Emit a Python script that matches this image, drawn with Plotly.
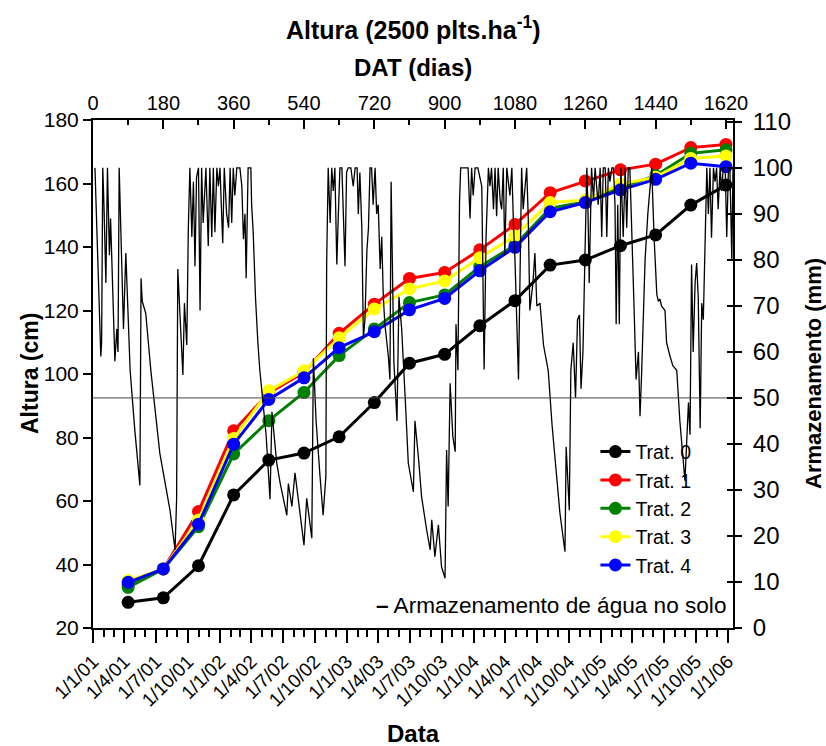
import plotly.graph_objects as go

# Days after transplanting at each height measurement
dat = [90, 180, 270, 360, 450, 540, 630, 720, 810, 900,
       990, 1080, 1170, 1260, 1350, 1440, 1530, 1620]

# Plant height (cm) per treatment
trat0 = [28.1, 29.5, 39.6, 61.9, 72.9, 75.1, 80.2, 91.0, 103.4, 106.2,
         115.2, 123.1, 134.3, 135.9, 140.4, 143.8, 153.2, 159.5]
trat1 = [33.7, 38.6, 56.7, 82.1, 94.0, 100.5, 112.8, 122.0, 130.1, 132.0,
         139.1, 147.1, 157.1, 160.8, 164.3, 166.1, 171.3, 172.3]
trat2 = [32.8, 38.6, 51.9, 74.8, 85.3, 94.2, 105.8, 114.2, 122.5, 124.9,
         133.8, 140.6, 152.2, 154.3, 158.8, 162.5, 169.5, 170.6]
trat3 = [34.9, 38.6, 54.0, 79.7, 94.7, 101.0, 111.4, 120.5, 126.8, 129.3,
         136.6, 143.5, 154.0, 154.8, 159.8, 162.0, 167.9, 168.7]
trat4 = [34.4, 38.6, 52.7, 77.9, 92.0, 98.8, 108.3, 113.3, 120.2, 123.8,
         132.5, 139.9, 151.1, 154.0, 158.0, 161.3, 166.4, 165.3]

series_names = ["Trat. 0", "Trat. 1", "Trat. 2", "Trat. 3", "Trat. 4"]
series_colors = ["#000000", "#ff0000", "#008000", "#ffff00", "#0000ff"]

# Soil water storage (mm) against days after transplanting
agua_dat = [5, 9, 12, 20, 22, 25, 28, 33, 37, 42, 45, 50, 56, 61, 64, 67, 73, 78, 84, 88,
            95, 107, 120, 123, 126, 135, 148, 171, 197, 210, 214, 217, 230, 234, 240, 244,
            248, 253, 257, 261, 265, 270, 274, 278, 282, 289, 295, 299, 304, 308, 312, 317,
            321, 325, 332, 336, 342, 347, 351, 355, 359, 363, 368, 376, 381, 385, 389, 392,
            397, 404, 406, 410, 416, 422, 427, 443, 453, 458, 470, 479, 496, 500, 509, 517,
            525, 534, 540, 547, 555, 560, 564, 571, 581, 589, 596, 598, 602, 607, 611, 615,
            619, 624, 628, 632, 637, 645, 649, 653, 660, 666, 671, 676, 679, 683, 688, 692,
            696, 701, 705, 709, 713, 717, 722, 726, 730, 735, 739, 743, 747, 752, 756, 760,
            763, 770, 778, 783, 790, 799, 807, 820, 824, 833, 841, 854, 863, 867, 875, 884,
            892, 901, 903, 905, 909, 914, 921, 927, 929, 934, 938, 941, 952, 960, 965, 969,
            973, 978, 985, 995, 1001, 1006, 1012, 1016, 1020, 1025, 1029, 1033, 1037, 1042,
            1046, 1050, 1054, 1059, 1067, 1072, 1076, 1080, 1089, 1097, 1101, 1110, 1114,
            1118, 1126, 1131, 1136, 1144, 1153, 1165, 1175, 1187, 1195, 1208, 1211, 1219,
            1223, 1229, 1235, 1240, 1245, 1249, 1254, 1259, 1264, 1267, 1270, 1276, 1281,
            1285, 1289, 1293, 1298, 1302, 1306, 1311, 1315, 1319, 1323, 1328, 1332, 1336,
            1339, 1343, 1347, 1351, 1357, 1362, 1366, 1370, 1374, 1379, 1385, 1390, 1396,
            1400, 1404, 1413, 1420, 1430, 1436, 1443, 1447, 1451, 1455, 1464, 1468, 1477,
            1484, 1494, 1502, 1515, 1519, 1524, 1528, 1532, 1536, 1541, 1545, 1549, 1554,
            1558, 1562, 1566, 1571, 1575, 1579, 1583, 1588, 1592, 1596, 1600, 1605, 1609,
            1613, 1618, 1622, 1626, 1630, 1635, 1638]
agua_mm = [100, 88, 83, 59, 62, 100, 92, 75, 100, 81, 89, 72, 58, 65, 60, 100, 81, 65, 81.5, 73,
           56, 43, 31, 76, 71, 68.4, 56, 38, 25.6, 17, 28, 78, 55, 70.6, 61.5, 87,
           100, 85, 97, 78.6, 98, 100, 69, 100, 88, 100, 83, 100, 85, 100, 86, 100,
           96, 100, 83.6, 100, 90, 87, 100, 88, 100, 94, 100, 100, 96, 84.5, 90, 76,
           100, 100, 92, 86, 71.6, 62, 56, 42, 28, 47, 36, 31.5, 24.5, 31.4, 26.4, 33.7,
           28.5, 22, 18, 28.2, 22, 19.5, 58.6, 45, 33, 24.5, 33, 79, 100, 88, 100, 95,
           100, 79, 90, 100, 100, 78.6, 99, 100, 100, 96, 100, 100, 90, 99, 87, 63,
           67, 82, 87, 100, 100, 92, 100, 90, 92, 78, 85, 72, 66, 62, 59, 54,
           97, 58, 45, 72, 65, 50, 35.8, 29.6, 45, 37, 28.5, 21.3, 17, 23.5, 15.5, 22.4,
           13.3, 10.8, 33, 38.7, 26.4, 53.2, 41.6, 38.3, 66, 56, 92.5, 100, 100, 100, 89, 100,
           94, 100, 100, 96, 56.2, 85, 100, 96, 100, 91, 100, 89.5, 100, 93,
           91, 100, 81, 100, 94, 100, 88, 80, 54, 100, 91, 100, 89,
           69, 75, 81.5, 70, 70.6, 61.5, 56, 44, 31.5, 25, 16.6, 39.4, 25.6,
           56, 62, 50, 67, 68, 52, 60, 80.6, 100, 90, 75, 100, 93,
           100, 96, 92, 100, 85, 100, 100, 85, 100, 97, 100, 100, 92,
           66, 92, 66, 100, 85, 100, 87, 100, 100, 83.6, 69, 54, 60,
           46, 55, 80, 90, 100, 85, 72.5, 71, 71.5, 70, 69, 62, 59,
           57, 56, 45, 32, 40, 49, 42, 79, 60, 75, 79.3, 72, 43.4,
           70.6, 67, 79.3, 100, 90, 100, 84.8, 100, 97, 100, 91, 100, 95,
           100, 100, 85, 99, 100, 80, 100]

# Calendar span of the bottom axis and the 50 mm reference level
data_inicio = "2001-01-01"
data_fim = "2006-01-16"
nivel_ref_mm = 50

FONT = "Liberation Sans, Arial, sans-serif"

fig = go.Figure()

for nome, cor, vals in zip(series_names, series_colors, [trat0, trat1, trat2, trat3, trat4]):
    fig.add_trace(go.Scatter(
        x=dat, y=vals, name=nome, mode="lines+markers",
        line=dict(color=cor, width=3),
        marker=dict(color=cor, size=13),
        xaxis="x", yaxis="y",
    ))

fig.add_trace(go.Scatter(
    x=agua_dat, y=agua_mm, name="Armazenamento de água no solo",
    mode="lines", line=dict(color="black", width=1.3),
    xaxis="x", yaxis="y2", showlegend=False,
))

# Horizontal reference at 50 mm across the whole date span
fig.add_trace(go.Scatter(
    x=[data_inicio, data_fim], y=[nivel_ref_mm, nivel_ref_mm],
    mode="lines", line=dict(color="#444444", width=1),
    xaxis="x2", yaxis="y3", showlegend=False, hoverinfo="skip",
))

axis_common = dict(showline=True, linecolor="black", linewidth=2,
                   showgrid=False, zeroline=False, tickcolor="black")

fig.update_layout(
    width=826, height=746,
    margin=dict(l=93, r=93, t=120, b=118),
    paper_bgcolor="white", plot_bgcolor="white",
    font=dict(family=FONT, color="black"),
    showlegend=True,
    legend=dict(x=0.785, y=0.385, xanchor="left", yanchor="top",
                bgcolor="rgba(0,0,0,0)", font=dict(size=19.5, family=FONT),
                tracegroupgap=0),
    # days after transplanting (top)
    xaxis=dict(
        side="top", range=[0, 1638],
        tick0=0, dtick=180, ticks="inside", ticklen=9, tickwidth=1.5,
        tickfont=dict(size=20),
        minor=dict(dtick=90, tick0=0, ticks="inside", ticklen=5, tickwidth=1.5, tickcolor="black"),
        **axis_common,
    ),
    # calendar dates (bottom)
    xaxis2=dict(
        type="date", overlaying="x", side="bottom", range=[data_inicio, data_fim],
        tick0="2001-01-01", dtick="M3", tickformat="%-d/%-m/%y",
        tickangle=-45, ticks="outside", ticklen=13, tickwidth=1.5,
        tickfont=dict(size=19),
        minor=dict(dtick="M1", ticks="outside", ticklen=7, tickwidth=1.5, tickcolor="black"),
        **axis_common,
    ),
    yaxis=dict(
        range=[20, 180], dtick=20, ticks="outside", ticklen=8, tickwidth=1.5,
        tickfont=dict(size=21),
        **axis_common,
    ),
    yaxis2=dict(
        overlaying="y", side="right", range=[0, 110.4], dtick=10,
        ticks="outside", ticklen=7, tickwidth=1.5, tickfont=dict(size=24),
        ticklabelstandoff=6,
        **axis_common,
    ),
    yaxis3=dict(
        overlaying="y", side="right", range=[0, 110.4], dtick=10,
        ticks="inside", ticklen=6, tickwidth=1.5, showticklabels=False,
        showline=False, showgrid=False, zeroline=False, tickcolor="black",
    ),
)

titulos = [
    dict(text="<b>Altura (2500 plts.ha<sup>-1</sup>)</b>", x=0.5, y=1, xref="paper", yref="paper",
         yshift=92, font=dict(size=25)),
    dict(text="<b>DAT (dias)</b>", x=0.5, y=1, xref="paper", yref="paper",
         yshift=53, font=dict(size=24)),
    dict(text="<b>Data</b>", x=0.5, y=0, xref="paper", yref="paper",
         yshift=-105, font=dict(size=24)),
    dict(text="<b>Altura (cm)</b>", x=0, y=0.5, xref="paper", yref="paper",
         xshift=-63, textangle=-90, font=dict(size=23)),
    dict(text="<b>Armazenamento (mm)</b>", x=1, y=0.5, xref="paper", yref="paper",
         xshift=80, textangle=-90, font=dict(size=22)),
    dict(text="<b>–</b> Armazenamento de água no solo", x=0.992, y=0, xref="paper", yref="paper",
         xanchor="right", yshift=23, font=dict(size=22.6)),
]
for a in titulos:
    a.setdefault("xanchor", "center")
    a.setdefault("yanchor", "middle")
    a.setdefault("showarrow", False)
    a["font"]["family"] = FONT
    a["font"]["color"] = "black"
    fig.add_annotation(**a)

fig.write_html("out.html")
